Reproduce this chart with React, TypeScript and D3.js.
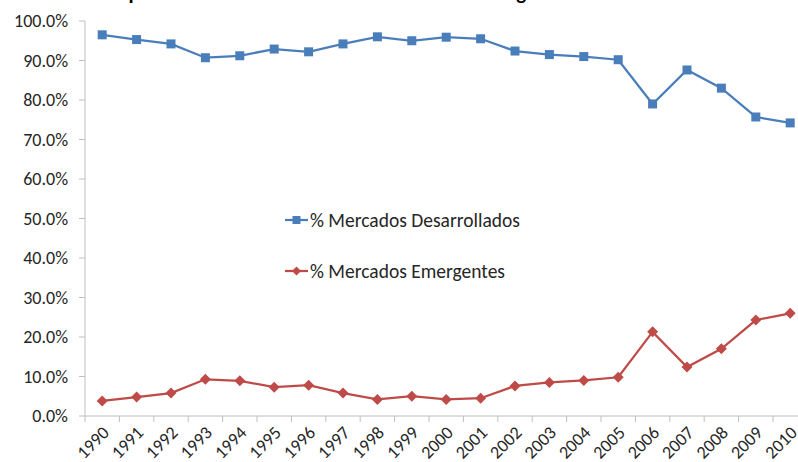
import React from "react";
import * as d3 from "d3";

const years = ["1990","1991","1992","1993","1994","1995","1996","1997","1998","1999","2000","2001","2002","2003","2004","2005","2006","2007","2008","2009","2010"];
const developed = [96.5,95.3,94.2,90.7,91.2,92.9,92.2,94.2,96.0,95.0,95.9,95.5,92.4,91.5,91.0,90.2,79.0,87.6,83.0,75.7,74.2];
const emerging = [3.8,4.8,5.8,9.3,8.9,7.3,7.8,5.8,4.2,5.0,4.2,4.5,7.6,8.5,9.0,9.8,21.3,12.4,17.0,24.3,26.0];
const yTicks = [0,10,20,30,40,50,60,70,80,90,100];
const seriesNames = ["% Mercados Desarrollados", "% Mercados Emergentes"];
const title = "Composición de Mercados Desarrollados vs Emergentes";

const W = 798, H = 462;
const BLUE = "#4A7EBB", RED = "#BE4B48";
const FONT = "Carlito, Calibri, 'Open Sans', 'Noto Sans', sans-serif";

export default function App() {
  const left = 85, top = 21, bottom = 416;
  const band = 34.4;
  const x = d3.scaleBand<string>().domain(years).range([left, left + band * years.length]);
  const y = d3.scaleLinear().domain([0, 100]).range([bottom, top]);
  const cx = (yr: string) => (x(yr) as number) + x.bandwidth() / 2;
  const line = d3.line<number>().x((_, i) => cx(years[i])).y(d => y(d));
  const diamond = (px: number, py: number, r: number) => `M${px},${py - r}L${px + r},${py}L${px},${py + r}L${px - r},${py}Z`;

  return (
    <svg width={W} height={H} style={{ position: "absolute", left: 0, top: 0, background: "#fff" }}>
      <rect width={W} height={H} fill="#fff" />
      <text x={89} y={0} fontFamily={FONT} fontWeight="bold" fontSize={21} fill="#000">{title}</text>
      {/* y axis */}
      <line x1={left} x2={left} y1={top} y2={bottom} stroke="#BFBFBF" strokeWidth={1} />
      {yTicks.map(t => (
        <g key={t}>
          <line x1={left - 6} x2={left} y1={y(t)} y2={y(t)} stroke="#BFBFBF" />
          <text x={68} y={y(t)} dy="0.35em" textAnchor="end" fontFamily={FONT} fontSize={18} fill="#262626">{t.toFixed(1) + "%"}</text>
        </g>
      ))}
      {/* x axis */}
      <line x1={left} x2={W} y1={bottom} y2={bottom} stroke="#BFBFBF" />
      {years.map(yr => (
        <g key={yr}>
          <line x1={x(yr) as number} x2={x(yr) as number} y1={bottom} y2={bottom + 6} stroke="#BFBFBF" />
          <text transform={`translate(${cx(yr) - 1},${bottom + 9}) rotate(-45)`} textAnchor="end" dy="0.7em" fontFamily={FONT} fontSize={18} fill="#262626">{yr}</text>
        </g>
      ))}
      {/* series */}
      <path d={line(developed) || ""} fill="none" stroke={BLUE} strokeWidth={2.25} />
      {developed.map((v, i) => (
        <rect key={i} x={cx(years[i]) - 4.5} y={y(v) - 4.5} width={9} height={9} fill={BLUE} />
      ))}
      <path d={line(emerging) || ""} fill="none" stroke={RED} strokeWidth={2.25} />
      {emerging.map((v, i) => (
        <path key={i} d={diamond(cx(years[i]), y(v), 5.5)} fill={RED} />
      ))}
      {/* legend */}
      <g>
        <line x1={285} x2={308} y1={220} y2={220} stroke={BLUE} strokeWidth={2.25} />
        <rect x={292.5} y={216} width={8} height={8} fill={BLUE} />
        <text x={310} y={220} dy="0.35em" fontFamily={FONT} fontSize={19.5} fill="#262626">{seriesNames[0]}</text>
        <line x1={285} x2={308} y1={271} y2={271} stroke={RED} strokeWidth={2.25} />
        <path d={diamond(296.5, 271, 4.5)} fill={RED} />
        <text x={310} y={271} dy="0.35em" fontFamily={FONT} fontSize={19.5} fill="#262626">{seriesNames[1]}</text>
      </g>
    </svg>
  );
}
